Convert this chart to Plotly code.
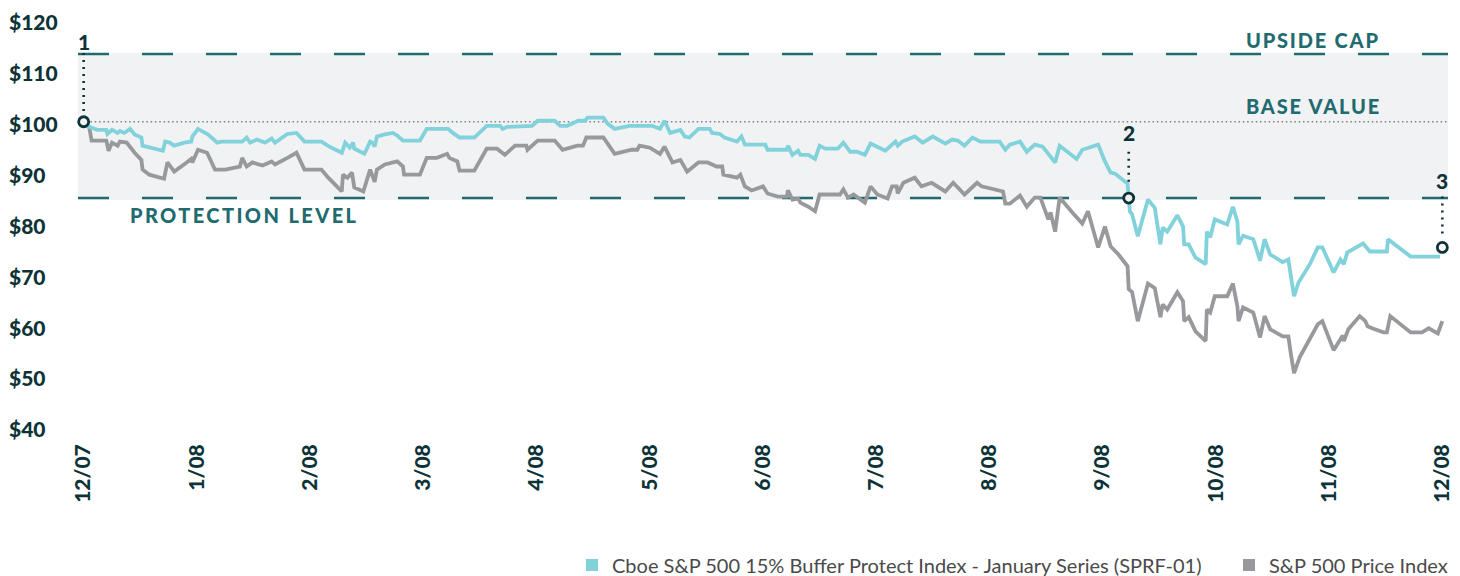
import plotly.graph_objects as go

# ---------------- data ----------------
# time axis: months elapsed since 12/07 (0 = 12/07, 12 = 12/08)
month_ticks = list(range(13))
month_labels = ["12/07", "1/08", "2/08", "3/08", "4/08", "5/08", "6/08",
                "7/08", "8/08", "9/08", "10/08", "11/08", "12/08"]
price_ticks = [40, 50, 60, 70, 80, 90, 100, 110, 120]
price_labels = ["$40", "$50", "$60", "$70", "$80", "$90", "$100", "$110", "$120"]

base_value = 100
upside_cap = 113.3
protection_level = 85

sp500_t = [0.01, 0.05, 0.07, 0.20, 0.22, 0.25, 0.30, 0.32, 0.38, 0.45, 0.51, 0.52, 0.58, 0.71, 0.74,
           0.80, 0.91, 0.95, 0.96, 1.01, 1.09, 1.16, 1.25, 1.38, 1.40, 1.44, 1.49, 1.58, 1.66, 1.69,
           1.80, 1.88, 1.95, 2.10, 2.16, 2.28, 2.29, 2.33, 2.37, 2.39, 2.47, 2.53, 2.57, 2.59, 2.66,
           2.77, 2.82, 2.83, 2.97, 3.03, 3.12, 3.21, 3.23, 3.30, 3.32, 3.45, 3.56, 3.65, 3.72, 3.81,
           3.91, 3.92, 4.01, 4.16, 4.23, 4.36, 4.41, 4.44, 4.59, 4.65, 4.69, 4.84, 4.89, 4.91, 5.00,
           5.09, 5.13, 5.20, 5.27, 5.33, 5.43, 5.51, 5.59, 5.64, 5.65, 5.77, 5.80, 5.84, 5.90, 6.00,
           6.04, 6.13, 6.21, 6.22, 6.26, 6.31, 6.33, 6.40, 6.46, 6.50, 6.68, 6.71, 6.75, 6.80, 6.90,
           6.95, 7.01, 7.10, 7.14, 7.18, 7.19, 7.24, 7.34, 7.40, 7.49, 7.61, 7.68, 7.78, 7.89, 7.93,
           8.12, 8.14, 8.18, 8.27, 8.33, 8.40, 8.45, 8.52, 8.54, 8.58, 8.62, 8.73, 8.82, 8.87, 8.96,
           9.02, 9.07, 9.14, 9.22, 9.23, 9.26, 9.31, 9.40, 9.46, 9.51, 9.53, 9.57, 9.66, 9.71, 9.72,
           9.76, 9.82, 9.91, 9.92, 9.95, 9.99, 10.10, 10.15, 10.19, 10.20, 10.24, 10.33, 10.39, 10.43,
           10.48, 10.59, 10.64, 10.66, 10.69, 10.74, 10.90, 10.94, 11.04, 11.12, 11.13, 11.17, 11.27,
           11.32, 11.34, 11.38, 11.48, 11.51, 11.54, 11.72, 11.82, 11.88, 11.96, 11.98, 12.00]
sp500_val = [100.0, 98.8, 96.3, 96.3, 94.3, 95.9, 95.3, 96.1, 95.9, 93.9, 92.5, 90.6, 89.6, 88.8, 92.0,
             90.2, 92.0, 92.7, 92.0, 94.5, 93.9, 90.6, 90.6, 91.2, 92.9, 91.2, 92.0, 91.4, 92.2, 91.6,
             92.9, 93.9, 90.6, 90.6, 89.0, 86.3, 89.6, 89.0, 90.0, 87.1, 86.3, 90.6, 88.2, 90.6, 91.6,
             92.2, 91.2, 89.6, 89.6, 92.9, 92.9, 93.7, 92.9, 92.2, 90.4, 90.4, 94.7, 94.7, 93.5, 95.3,
             95.3, 94.5, 96.3, 96.3, 94.5, 95.3, 95.3, 96.9, 96.9, 94.9, 93.7, 94.5, 94.5, 95.3, 94.9,
             93.7, 95.1, 92.0, 92.5, 90.2, 92.0, 92.0, 91.2, 91.2, 89.6, 89.0, 89.6, 87.3, 86.5, 87.3,
             85.9, 85.3, 85.3, 86.5, 84.7, 84.9, 84.1, 83.3, 82.4, 85.7, 85.7, 86.7, 85.1, 85.7, 84.1,
             87.3, 85.7, 84.9, 87.3, 87.3, 85.9, 88.0, 89.0, 87.3, 88.0, 86.3, 88.0, 85.7, 88.0, 87.3,
             86.3, 83.9, 83.9, 85.5, 83.3, 85.1, 85.1, 80.8, 82.2, 78.4, 85.1, 82.2, 80.0, 82.4, 75.3,
             79.4, 75.5, 73.9, 71.6, 67.1, 66.5, 60.8, 68.2, 67.3, 61.6, 64.1, 63.1, 66.5, 64.7, 60.8,
             61.6, 58.8, 56.9, 63.1, 62.5, 65.7, 65.7, 68.2, 63.7, 60.8, 63.5, 62.5, 57.6, 61.8,
             59.2, 57.8, 57.8, 54.7, 50.6, 53.7, 60.2, 60.8, 55.1, 58.0, 56.9, 59.2, 61.8,
             60.8, 59.8, 59.4, 58.6, 58.6, 61.8, 58.6, 58.6, 59.4, 58.4, 59.6, 60.8]

buffer_t = [0.01, 0.05, 0.12, 0.20, 0.21, 0.25, 0.30, 0.32, 0.36, 0.41, 0.45, 0.51, 0.52, 0.70, 0.72,
            0.76, 0.80, 0.89, 0.95, 0.96, 1.01, 1.10, 1.18, 1.22, 1.40, 1.44, 1.47, 1.53, 1.60, 1.66,
            1.69, 1.80, 1.88, 1.95, 2.10, 2.17, 2.28, 2.31, 2.35, 2.38, 2.39, 2.48, 2.53, 2.55, 2.57,
            2.59, 2.66, 2.73, 2.77, 2.82, 2.97, 3.03, 3.22, 3.26, 3.32, 3.45, 3.56, 3.68, 3.70, 3.74,
            3.96, 4.01, 4.16, 4.21, 4.27, 4.37, 4.43, 4.45, 4.59, 4.63, 4.69, 4.82, 5.02, 5.09, 5.13,
            5.18, 5.27, 5.31, 5.35, 5.43, 5.53, 5.55, 5.62, 5.66, 5.77, 5.81, 5.84, 6.02, 6.04, 6.21,
            6.22, 6.26, 6.31, 6.33, 6.40, 6.46, 6.50, 6.55, 6.66, 6.71, 6.77, 6.83, 6.90, 6.95, 7.08,
            7.17, 7.19, 7.23, 7.34, 7.41, 7.50, 7.61, 7.67, 7.72, 7.78, 7.85, 7.92, 8.09, 8.14, 8.18,
            8.27, 8.33, 8.40, 8.47, 8.58, 8.62, 8.77, 8.82, 8.96, 9.02, 9.07, 9.11, 9.22, 9.23, 9.24,
            9.26, 9.31, 9.40, 9.46, 9.51, 9.53, 9.57, 9.66, 9.71, 9.72, 9.76, 9.82, 9.91, 9.92, 9.95,
            9.99, 10.10, 10.15, 10.19, 10.20, 10.24, 10.33, 10.39, 10.43, 10.48, 10.59, 10.64, 10.66,
            10.69, 10.73, 10.83, 10.90, 10.94, 11.04, 11.10, 11.13, 11.16, 11.30, 11.36, 11.51, 11.52,
            11.72, 11.98]
buffer_val = [100.0, 99.0, 98.4, 98.4, 97.6, 98.4, 97.8, 98.2, 97.8, 98.6, 97.5, 96.9, 95.3, 94.3, 96.1,
              95.9, 95.3, 95.9, 96.1, 97.1, 98.6, 97.5, 95.9, 96.1, 96.1, 96.9, 95.9, 96.5, 95.9, 96.7,
              95.9, 97.6, 97.8, 96.1, 96.1, 95.1, 93.9, 95.9, 94.9, 95.9, 94.7, 93.7, 96.1, 95.9, 95.1,
              97.1, 97.5, 97.8, 97.3, 96.3, 96.3, 98.6, 98.6, 97.8, 96.9, 96.9, 99.2, 99.2, 98.6, 99.0,
              99.2, 100.2, 100.2, 99.2, 99.2, 100.2, 100.2, 100.8, 100.8, 99.6, 98.6, 99.2, 99.2, 98.6, 100.2,
              97.8, 98.4, 97.1, 96.9, 98.6, 98.6, 97.8, 97.6, 96.9, 96.1, 97.1, 95.5, 95.5, 94.5, 94.5,
              95.3, 93.5, 94.3, 93.5, 93.5, 92.7, 95.3, 94.7, 94.7, 95.9, 94.1, 94.1, 93.5, 95.7, 94.3,
              96.1, 95.3, 96.1, 97.1, 95.9, 97.1, 95.7, 96.5, 96.3, 95.3, 96.9, 96.1, 96.1, 94.5, 95.5,
              96.1, 94.1, 95.5, 95.1, 92.0, 95.3, 92.7, 94.5, 95.5, 92.2, 90.0, 89.8, 87.8, 85.1, 82.4,
              81.8, 77.5, 84.7, 83.1, 75.9, 79.2, 78.4, 81.6, 79.4, 75.9, 75.9, 73.3, 72.0, 78.4, 77.3,
              80.8, 79.8, 83.3, 80.4, 75.9, 77.6, 76.9, 72.7, 76.9, 73.9, 72.4, 72.9, 69.6,
              65.7, 68.4, 72.0, 75.3, 75.3, 70.4, 72.9, 72.0, 74.3, 76.1, 74.5, 74.5, 76.9,
              73.5, 73.5]

event_t = [0, 9.23, 12.0]
event_val = [100, 85, 75.3]
event_labels = ["1", "2", "3"]
event_label_val = [115.7, 97.8, 88.4]
event_leader_top = [113.5, 94.1, 85.3]
event_leader_bottom = [101.2, 87.6, 77.3]

series_names = ["Cboe S&P 500 15% Buffer Protect Index - January Series (SPRF-01)",
                "S&P 500 Price Index"]

# ---------------- style ----------------
CYAN = "#82d2dc"
GREY = "#98999c"
BAND = "#f1f2f4"
TEAL = "#1f6b70"
DARK = "#0d3338"
FONT = "Lato"

X0, X1 = -0.05, 12.05

fig = go.Figure()

fig.add_trace(go.Scatter(x=sp500_t, y=sp500_val, mode="lines",
                         line=dict(color=GREY, width=3.8), showlegend=False,
                         name=series_names[1]))
fig.add_trace(go.Scatter(x=buffer_t, y=buffer_val, mode="lines",
                         line=dict(color=CYAN, width=3.8), showlegend=False,
                         name=series_names[0]))

# event markers
fig.add_trace(go.Scatter(x=event_t, y=event_val, mode="markers", cliponaxis=False,
                         marker=dict(symbol="circle", size=10,
                                     color=[BAND, BAND, "#ffffff"],
                                     line=dict(color=DARK, width=2.8)),
                         showlegend=False, hoverinfo="skip"))

# legend entries (square swatches)
fig.add_trace(go.Scatter(x=[None], y=[None], mode="markers", name=series_names[0],
                         marker=dict(symbol="square", size=12, color=CYAN), legend="legend"))
fig.add_trace(go.Scatter(x=[None], y=[None], mode="markers", name=series_names[1],
                         marker=dict(symbol="square", size=12, color=GREY), legend="legend2"))

shapes = []
# grey protected band
shapes.append(dict(type="rect", xref="x", yref="y", x0=X0, x1=X1, y0=84.6, y1=113.5,
                   fillcolor=BAND, line=dict(width=0), layer="below"))
# upside cap / protection dashed lines
for lvl in (upside_cap, protection_level):
    shapes.append(dict(type="line", xref="x", yref="y", x0=X0, x1=X1, y0=lvl, y1=lvl,
                       line=dict(color=TEAL, width=2.5, dash="31px,33px"), layer="below"))
# base value dotted line
shapes.append(dict(type="line", xref="x", yref="y", x0=0.06, x1=X1, y0=base_value, y1=base_value,
                   line=dict(color="#7d8083", width=1.6, dash="1.5px,2.8px"), layer="below"))
# event leader lines
for t, a, b in zip(event_t, event_leader_top, event_leader_bottom):
    shapes.append(dict(type="line", xref="x", yref="y", x0=t, x1=t, y0=a, y1=b,
                       line=dict(color=DARK, width=2.6, dash="2px,5px")))

annotations = []
for t, lab, v in zip(event_t, event_labels, event_label_val):
    annotations.append(dict(x=t, y=v, xref="x", yref="y", text=lab, showarrow=False,
                            font=dict(family=FONT, size=21, color=DARK, weight=900)))

ls = '<span style="letter-spacing:{}px">{}</span>'
annotations.append(dict(x=10.86, y=116.1, xref="x", yref="y", text=ls.format(1.8, "UPSIDE CAP"),
                        showarrow=False, font=dict(family=FONT, size=20, color=TEAL, weight=900)))
annotations.append(dict(x=10.86, y=103.0, xref="x", yref="y", text=ls.format(1.8, "BASE VALUE"),
                        showarrow=False, font=dict(family=FONT, size=20, color=TEAL, weight=900)))
annotations.append(dict(x=1.42, y=81.6, xref="x", yref="y", text=ls.format(2.4, "PROTECTION LEVEL"),
                        showarrow=False, font=dict(family=FONT, size=20, color=TEAL, weight=900)))

# the page body adds an 8px offset, so the figure is 8px smaller and targets are shifted
OFF = 8
W, H = 1460 - OFF, 576 - OFF
L, R, T, B = 0, 12, 20 - OFF, 149
pw = W - L - R
ph = H - T - B
dom0 = (78 - OFF - L) / pw


def px_x(p):
    return (p - OFF - L) / pw


def px_y(p):
    return (H - B - (p - OFF)) / ph


fig.update_layout(
    width=W, height=H,
    margin=dict(l=L, r=R, t=T, b=B, autoexpand=False),
    paper_bgcolor="white", plot_bgcolor="white",
    shapes=shapes, annotations=annotations,
    xaxis=dict(range=[X0, X1], domain=[dom0, 1], tickmode="array", tickvals=month_ticks,
               ticktext=month_labels, tickangle=-90, showgrid=False, zeroline=False,
               showline=False, ticks="", ticklabelstandoff=12, automargin=False,
               tickfont=dict(family=FONT, size=21, color=DARK, weight=900)),
    yaxis=dict(range=[40, 120], tickmode="array", tickvals=price_ticks, ticktext=price_labels,
               anchor="free", position=0, ticklabelposition="inside", ticklabeloverflow="allow",
               ticklabelstandoff=-3, ticklabelshift=3,
               showgrid=False, zeroline=False, showline=False, ticks="", automargin=False,
               tickfont=dict(family=FONT, size=21, color=DARK, weight=900)),
    legend=dict(orientation="h", x=px_x(572), xanchor="left", y=px_y(565), yanchor="middle",
                font=dict(family=FONT, size=20, color="#4a4a4a"), bgcolor="rgba(0,0,0,0)"),
    legend2=dict(orientation="h", x=px_x(1229), xanchor="left", y=px_y(565), yanchor="middle",
                 font=dict(family=FONT, size=20, color="#4a4a4a"), bgcolor="rgba(0,0,0,0)"),
)

fig.write_html("out.html")
